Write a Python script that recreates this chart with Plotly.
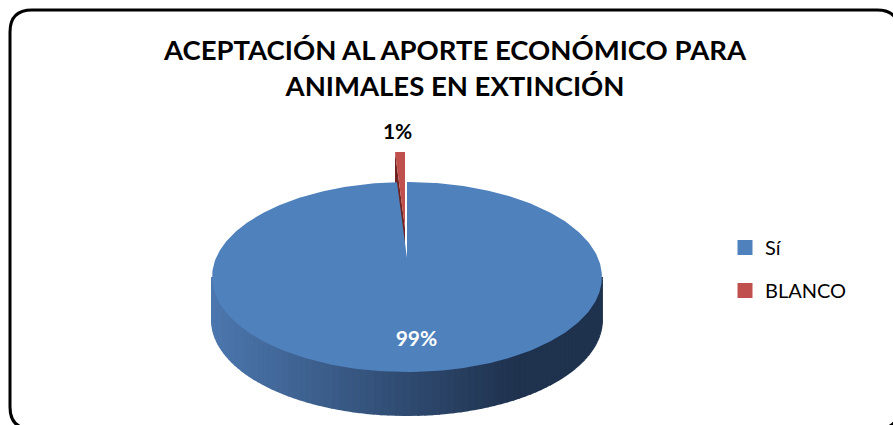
import numpy as np
import plotly.graph_objects as go

# ---------------- data ----------------
categories = ["Sí", "BLANCO"]
values = [99, 1]
title_lines = ["ACEPTACIÓN AL APORTE ECONÓMICO PARA", "ANIMALES EN EXTINCIÓN"]

# ---------------- style / geometry ----------------
W, H = 893, 425
TOP_COLORS = ["#4F81BD", "#C0504D"]
SIDE_DARK_RED = "#6E2320"
LABEL_COLORS = ["white", "black"]
EXPLODED = "BLANCO"
CX, CY = 407.0, 258.0     # pie apex in pixels
A, B, P = 91.2, 191.0, 0.2  # perspective projection of the disc
DEPTH = 43.0
EXPLODE_SHIFT = (-2.0, -30.0)
FONT = "Lato"


def proj(u, v):
    s = 1 + P * v
    return CX + B * u / s, CY - A * v / s


def rim(theta_deg, r=1.0):
    t = np.radians(theta_deg)
    return proj(r * np.sin(t), r * np.cos(t))


total = float(sum(values))
fracs = [v / total for v in values]
starts = np.concatenate([[0.0], np.cumsum(fracs)[:-1]]) * 360.0
ends = np.cumsum(fracs) * 360.0

fig = go.Figure()


def add_poly(xs, ys, color, lw=0.0):
    fig.add_trace(go.Scatter(
        x=list(xs), y=list(ys), mode="lines", fill="toself",
        fillcolor=color, line=dict(color=color, width=lw),
        hoverinfo="skip", showlegend=False))


def lerp_col(c0, c1, t):
    t = max(0.0, min(1.0, t))
    c = [round(a + (b - a) * t) for a, b in zip(c0, c1)]
    return "rgb(%d,%d,%d)" % tuple(c)


# ----- blue slice side (curved outer wall, front half) with gradient -----
th_right = np.degrees(np.arccos(-P))
th_left = 360 - th_right
x_left, _ = rim(th_left)
x_right, _ = rim(th_right)
LIGHT = (76, 119, 174)
DARK = (31, 50, 78)
for i, cat in enumerate(categories):
    if cat == EXPLODED:
        continue
    a0 = max(starts[i], th_right)
    a1 = min(ends[i], th_left)
    if a1 <= a0:
        continue
    edges = np.linspace(a0, a1, 90)
    for k in range(len(edges) - 1):
        ts = np.linspace(edges[k], edges[k + 1], 3)
        pts = [rim(t) for t in ts]
        xs = [p[0] for p in pts] + [p[0] for p in pts[::-1]]
        ys = [p[1] for p in pts] + [p[1] + DEPTH for p in pts[::-1]]
        xm = np.mean([p[0] for p in pts])
        tpos = (xm - x_left) / (x_right - x_left)
        col = lerp_col(LIGHT, DARK, tpos / 0.78)
        add_poly(xs, ys, col, lw=2.0)

# ----- exploded slice (drawn before the big top face) -----
for i, cat in enumerate(categories):
    if cat != EXPLODED:
        continue
    dx, dy = EXPLODE_SHIFT
    ax, ay = CX + dx, CY + dy
    ex, ey = rim(starts[i])
    ex, ey = ex + dx, ey + dy
    # radial side face
    add_poly([ax, ex, ex, ax], [ay, ey, ey + DEPTH, ay + DEPTH], SIDE_DARK_RED)
    ts = np.linspace(starts[i], ends[i], 20)
    pts = [rim(t) for t in ts]
    xs = [ax] + [p[0] + dx for p in pts] + [ax]
    ys = [ay] + [p[1] + dy for p in pts] + [ay]
    add_poly(xs, ys, TOP_COLORS[i])

# ----- top faces of the other slices -----
for i, cat in enumerate(categories):
    if cat == EXPLODED:
        continue
    ts = np.linspace(starts[i], ends[i], 400)
    pts = [rim(t) for t in ts]
    xs = [CX] + [p[0] for p in pts] + [CX]
    ys = [CY] + [p[1] for p in pts] + [CY]
    add_poly(xs, ys, TOP_COLORS[i])

# ----- percentage labels -----
for i, cat in enumerate(categories):
    mid = (starts[i] + ends[i]) / 2
    pct = "%d%%" % round(fracs[i] * 100)
    if cat == EXPLODED:
        lx, ly = rim(mid, 1.36)
        lx, ly = lx + EXPLODE_SHIFT[0] - 1, ly + EXPLODE_SHIFT[1] + 3
    else:
        lx, ly = rim(mid, 0.77)
        lx += 4
    fig.add_trace(go.Scatter(
        x=[lx], y=[ly], mode="text", text=["<b>%s</b>" % pct],
        textposition="middle center",
        textfont=dict(family=FONT, size=21, color=LABEL_COLORS[i]),
        hoverinfo="skip", showlegend=False))

# ----- legend entries -----
for i, cat in enumerate(categories):
    fig.add_trace(go.Scatter(
        x=[None], y=[None], mode="markers", name=cat, legendgroup=cat,
        marker=dict(symbol="square", size=15, color=TOP_COLORS[i]),
        hoverinfo="skip"))

# ----- frame -----
R = 22
x0, y0, x1, y1 = 10, 10, 899, 429
frame = (f"M {x0},{y0+R} Q {x0},{y0} {x0+R},{y0} L {x1-R},{y0} "
         f"Q {x1},{y0} {x1},{y0+R} L {x1},{y1-R} Q {x1},{y1} {x1-R},{y1} "
         f"L {x0+R},{y1} Q {x0},{y1} {x0},{y1-R} Z")

fig.update_layout(
    width=W, height=H,
    margin=dict(l=0, r=0, t=0, b=0),
    paper_bgcolor="white", plot_bgcolor="white",
    xaxis=dict(range=[0, W], visible=False, fixedrange=True),
    yaxis=dict(range=[H, 0], visible=False, fixedrange=True),
    shapes=[dict(type="path", path=frame, xref="x", yref="y",
                 line=dict(color="black", width=3), layer="above")],
    title=dict(text="<b>" + "<br>".join(title_lines) + "</b>",
               x=455 / W, xanchor="center", y=1 - 60 / H, yanchor="top",
               font=dict(family=FONT, size=27.5, color="black")),
    legend=dict(x=725 / W, xanchor="left", y=1 - 228 / H, yanchor="top",
                traceorder="grouped", tracegroupgap=14,
                font=dict(family=FONT, size=20, color="black"),
                bgcolor="rgba(0,0,0,0)"),
    showlegend=True,
)

fig.write_html("out.html")
